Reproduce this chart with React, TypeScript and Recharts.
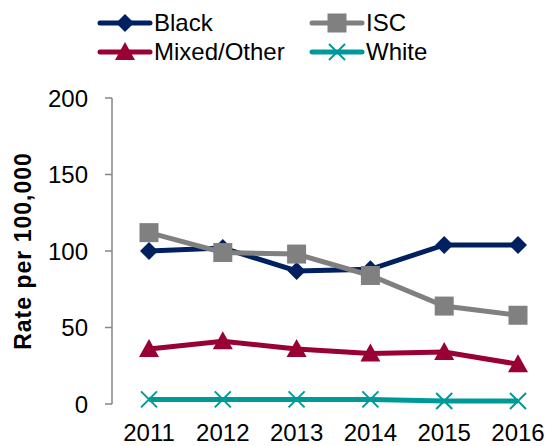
import { Line, LineChart, XAxis, YAxis, Label } from "recharts";

const years = ["2011", "2012", "2013", "2014", "2015", "2016"];
const black = [100, 102, 87, 88, 104, 104];
const isc = [112, 99, 98, 84, 64, 58];
const mixedOther = [36, 41, 36, 33, 34, 26];
const white = [3, 3, 3, 3, 2, 2];
const yTicks = [0, 50, 100, 150, 200];
const frameTicks = [0, 1, 2, 3, 4, 5, 6];

const NAVY = "#002060";
const GREY = "#808080";
const WINE = "#990033";
const TEAL = "#009999";
const AXIS = "#868686";
const FONT = "Arial, 'Liberation Sans', sans-serif";

const data = years.map((year, i) => ({
    year,
    black: black[i],
    isc: isc[i],
    mixed: mixedOther[i],
    white: white[i],
}));

type MarkerKind = "diamond" | "square" | "triangle" | "cross";

function Marker({ kind, cx, cy, color }: { kind: MarkerKind; cx: number; cy: number; color: string }) {
    if (kind === "diamond") {
        const r = 9;
        return <polygon points={`${cx},${cy - r} ${cx + r},${cy} ${cx},${cy + r} ${cx - r},${cy}`} fill={color} />;
    }
    if (kind === "square") {
        const r = 9.5;
        return <rect x={cx - r} y={cy - r} width={r * 2} height={r * 2} fill={color} />;
    }
    if (kind === "triangle") {
        const r = 10;
        return <polygon points={`${cx},${cy - r} ${cx + r},${cy + r * 0.8} ${cx - r},${cy + r * 0.8}`} fill={color} />;
    }
    const r = 8;
    return (
        <g stroke={color} strokeWidth={2}>
            <line x1={cx - r} y1={cy - r} x2={cx + r} y2={cy + r} />
            <line x1={cx - r} y1={cy + r} x2={cx + r} y2={cy - r} />
        </g>
    );
}

const dotFor = (kind: MarkerKind, color: string) => (props: any) => {
    const { cx, cy, index } = props;
    if (cx == null || cy == null) return <g key={index} />;
    return <Marker key={index} kind={kind} cx={cx} cy={cy} color={color} />;
};

const series = [
    { key: "black", name: "Black", color: NAVY, kind: "diamond" as MarkerKind },
    { key: "isc", name: "ISC", color: GREY, kind: "square" as MarkerKind },
    { key: "mixed", name: "Mixed/Other", color: WINE, kind: "triangle" as MarkerKind },
    { key: "white", name: "White", color: TEAL, kind: "cross" as MarkerKind },
];

function LegendKey({ name, color, kind }: { name: string; color: string; kind: MarkerKind }) {
    return (
        <div style={{ display: "flex", alignItems: "center", height: 29 }}>
            <svg width={56} height={26} style={{ display: "block" }}>
                <line x1={3} y1={13} x2={53} y2={13} stroke={color} strokeWidth={5} strokeLinecap="round" />
                <Marker kind={kind} cx={28} cy={13} color={color} />
            </svg>
            <span style={{ fontSize: 24, color: "#000", marginLeft: 1, lineHeight: "26px" }}>{name}</span>
        </div>
    );
}

// two-column key sitting above the plot
function ChartLegend() {
    return (
        <div
            style={{
                position: "absolute",
                top: 8,
                left: 97,
                display: "grid",
                gridTemplateColumns: "212px 200px",
                fontFamily: FONT,
            }}
        >
            {series.map((s) => (
                <LegendKey key={s.key} name={s.name} color={s.color} kind={s.kind} />
            ))}
        </div>
    );
}

export default function App() {
    return (
        <div style={{ position: "absolute", left: 0, top: 0, width: 552, height: 446, background: "#fff" }}>
            <LineChart width={552} height={446} data={data} margin={{ top: 98, right: -3, bottom: 0, left: 0 }}>
                <XAxis
                    xAxisId="frame"
                    type="number"
                    domain={[0, 6]}
                    ticks={frameTicks}
                    tick={false}
                    height={0}
                    stroke={AXIS}
                    strokeWidth={1.5}
                    tickSize={7}
                    allowDataOverflow
                />
                <XAxis
                    dataKey="year"
                    padding={{ left: 37, right: 37 }}
                    axisLine={false}
                    tickLine={false}
                    tickSize={0}
                    tickMargin={20}
                    height={42}
                    interval={0}
                    tick={{ fontSize: 24, fill: "#000", fontFamily: FONT }}
                />
                <YAxis
                    domain={[0, 200]}
                    ticks={yTicks}
                    width={112}
                    stroke={AXIS}
                    strokeWidth={1.5}
                    tickSize={7}
                    tickMargin={17}
                    tick={{ fontSize: 24, fill: "#000", fontFamily: FONT }}
                >
                    <Label
                        content={({ viewBox }: any) => {
                            const x = viewBox.x + 23;
                            const y = viewBox.y + viewBox.height / 2;
                            return (
                                <text
                                    x={x}
                                    y={y}
                                    transform={`rotate(-90, ${x}, ${y})`}
                                    textAnchor="middle"
                                    dominantBaseline="central"
                                    fontSize={23}
                                    fontWeight="bold"
                                    letterSpacing={1}
                                    fontFamily={FONT}
                                    fill="#000"
                                >
                                    Rate per 100,000
                                </text>
                            );
                        }}
                    />
                </YAxis>
                {series.map((s) => (
                    <Line
                        key={s.key}
                        type="linear"
                        dataKey={s.key}
                        name={s.name}
                        stroke={s.color}
                        strokeWidth={5}
                        dot={dotFor(s.kind, s.color)}
                        activeDot={false}
                        isAnimationActive={false}
                    />
                ))}
            </LineChart>
            <ChartLegend />
        </div>
    );
}
